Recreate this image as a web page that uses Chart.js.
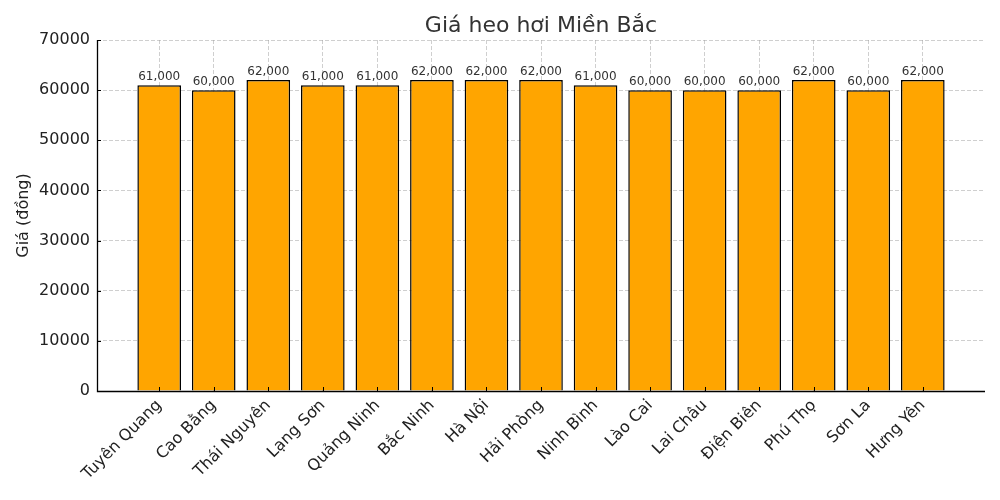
<!DOCTYPE html>
<html lang="vi">
<head>
    <meta charset="UTF-8">
    <title>Giá heo hơi Miền Bắc</title>
    <style>
        body {
            margin: 0;
            background: #fff;
        }
        #wrap {
            width: 1000px;
            height: 500px;
        }
    </style>
</head>
<body>
    <div id="wrap"><canvas id="chart" width="1000" height="500"></canvas></div>
    <script src="https://cdn.jsdelivr.net/npm/chart.js"></script>
    <script>
        // du lieu
        const provinces = ['Tuyên Quang', 'Cao Bằng', 'Thái Nguyên', 'Lạng Sơn', 'Quảng Ninh', 'Bắc Ninh', 'Hà Nội',
            'Hải Phòng', 'Ninh Bình', 'Lào Cai', 'Lai Châu', 'Điện Biên', 'Phú Thọ', 'Sơn La', 'Hưng Yên'];
        const prices = [61000, 60000, 62000, 61000, 61000, 62000, 62000, 62000, 61000, 60000, 60000, 60000, 62000, 60000, 62000];
        const yTicks = [0, 10000, 20000, 30000, 40000, 50000, 60000, 70000];

        const FONT = 'DejaVu Sans';
        const gridColor = 'rgba(160,160,160,0.5)';

        // luoi ve tren cot, sau do truc, tick huong vao trong, nhan gia tri va tieu de
        const extras = {
            id: 'extras',
            afterDraw(chart) {
                const c = chart.ctx;
                const x = chart.scales.x, y = chart.scales.y;
                const area = chart.chartArea;
                c.save();
                c.setLineDash([]);
                c.strokeStyle = '#000';
                c.lineWidth = 1.3;
                c.beginPath();
                c.moveTo(area.left + 0.5, area.top);
                c.lineTo(area.left + 0.5, area.bottom + 0.5);
                c.lineTo(area.right, area.bottom + 0.5);
                c.stroke();
                c.lineWidth = 1;
                provinces.forEach((p, i) => {
                    const px = Math.round(x.getPixelForValue(i)) + 0.5;
                    c.beginPath();
                    c.moveTo(px, area.bottom);
                    c.lineTo(px, area.bottom - 4);
                    c.stroke();
                });
                yTicks.forEach(v => {
                    const py = Math.round(y.getPixelForValue(v)) + 0.5;
                    c.beginPath();
                    c.moveTo(area.left, py);
                    c.lineTo(area.left + 4, py);
                    c.stroke();
                });
                c.fillStyle = '#333';
                c.font = '12px "' + FONT + '"';
                c.textAlign = 'center';
                c.textBaseline = 'bottom';
                chart.getDatasetMeta(0).data.forEach((bar, i) => {
                    c.fillText(prices[i].toLocaleString('en-US'), bar.x, bar.y - 2);
                });
                c.font = '22px "' + FONT + '"';
                c.textBaseline = 'alphabetic';
                c.fillText('Giá heo hơi Miền Bắc', (area.left + area.right) / 2, 32);
                c.restore();
            }
        };

        const ctx = document.getElementById('chart').getContext('2d');
        const chart = new Chart(ctx, {
            type: 'bar',
            data: {
                datasets: [{
                    data: prices.map((v, i) => ({ x: i, y: v })),
                    backgroundColor: '#FFA500',
                    borderColor: '#000',
                    borderWidth: 1.5,
                    barPercentage: 0.8,
                    categoryPercentage: 1
                }]
            },
            options: {
                responsive: false,
                animation: false,
                layout: { padding: { left: 0, right: 15, top: 40, bottom: 0 } },
                plugins: {
                    legend: { display: false },
                    tooltip: { enabled: false }
                },
                scales: {
                    x: {
                        type: 'linear',
                        z: 1,
                        offset: false,
                        min: -1.14,
                        max: 15.14,
                        afterBuildTicks: s => { s.ticks = provinces.map((p, i) => ({ value: i })); },
                        afterFit: s => { s.height = 109; },
                        grid: { color: gridColor, lineWidth: 1, drawTicks: false, offset: false },
                        border: { display: false, dash: [4, 2] },
                        ticks: {
                            autoSkip: false,
                            minRotation: 45,
                            maxRotation: 45,
                            padding: 5,
                            color: '#222',
                            font: { family: FONT, size: 16 },
                            callback: v => provinces[v]
                        }
                    },
                    y: {
                        z: 1,
                        min: 0,
                        max: 70000,
                        afterBuildTicks: s => { s.ticks = yTicks.map(v => ({ value: v })); },
                        afterFit: s => { s.width = 97; },
                        grid: { color: gridColor, lineWidth: 1, drawTicks: false },
                        border: { display: false, dash: [4, 2] },
                        title: {
                            display: true,
                            text: 'Giá (đồng)',
                            color: '#222',
                            font: { family: FONT, size: 16 },
                            padding: { top: 14, bottom: 0 }
                        },
                        ticks: {
                            padding: 7,
                            color: '#222',
                            font: { family: FONT, size: 16 },
                            callback: v => String(v)
                        }
                    }
                }
            },
            plugins: [extras]
        });
    </script>
</body>
</html>
